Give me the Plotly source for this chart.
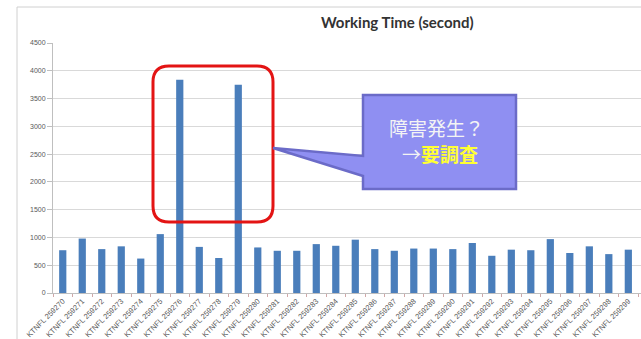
import plotly.graph_objects as go

# ---- data ----
ids = list(range(259270, 259300))
categories = [f"KTNFL {i}" for i in ids]
working_time = [770, 980, 790, 840, 620, 1060, 3840, 830, 630, 3750,
                820, 760, 760, 880, 850, 960, 790, 760, 800, 800,
                790, 900, 670, 780, 770, 970, 720, 840, 700, 780]
y_ticks = list(range(0, 4501, 500))
title_text = "Working Time (second)"
callout_line1 = "障害発生？"
callout_line2 = "→<span style='color:#ffff33'><b>要調査</b></span>"

W, H = 641, 339
L, T, B = 53, 43, 46
PW = W - L
PH = H - T - B

def px(x):
    return (x - L) / PW

def py(y):
    return (H - B - y) / PH

fig = go.Figure()
fig.add_trace(go.Bar(x=categories, y=working_time, marker_color="#4a7ebb",
                     marker_line_width=0, width=0.37))

shapes = []
# chart outer border (top and left lines)
shapes.append(dict(type="line", xref="paper", yref="paper", x0=px(17), x1=px(660),
                   y0=py(7), y1=py(7), line=dict(color="#d0d0d0", width=1)))
shapes.append(dict(type="line", xref="paper", yref="paper", x0=px(17), x1=px(17),
                   y0=py(7), y1=py(345), line=dict(color="#d0d0d0", width=1)))

# red rounded rectangle
x0, x1, y0, y1, r = 153, 273, 66, 222, 16
rx, ry = r / PW, r / PH
X0, X1, Y0, Y1 = px(x0), px(x1), py(y0), py(y1)
path = (f"M {X0+rx},{Y0} L {X1-rx},{Y0} Q {X1},{Y0} {X1},{Y0-ry} "
        f"L {X1},{Y1+ry} Q {X1},{Y1} {X1-rx},{Y1} L {X0+rx},{Y1} "
        f"Q {X0},{Y1} {X0},{Y1+ry} L {X0},{Y0-ry} Q {X0},{Y0} {X0+rx},{Y0} Z")
shapes.append(dict(type="path", xref="paper", yref="paper", path=path,
                   line=dict(color="#e31414", width=3)))

# callout box with pointer
bx0, bx1, by0, by1 = 363, 516, 95, 189
tipx, tipy = 273, 148
path2 = (f"M {px(bx0)},{py(by0)} L {px(bx1)},{py(by0)} L {px(bx1)},{py(by1)} "
         f"L {px(bx0)},{py(by1)} L {px(bx0)},{py(176)} L {px(tipx)},{py(tipy)} "
         f"L {px(bx0)},{py(156)} Z")
shapes.append(dict(type="path", xref="paper", yref="paper", path=path2,
                   fillcolor="#8f8ff2", line=dict(color="#6b6bc8", width=2.5)))

annotations = [
    dict(text=f"<b>{title_text}</b>", xref="paper", yref="paper", x=px(397), y=py(22),
         showarrow=False, font=dict(family="Lato, Liberation Sans", size=15, color="#333333"),
         xanchor="center", yanchor="middle"),
    dict(text=callout_line1, xref="paper", yref="paper", x=px(437), y=py(128),
         showarrow=False, font=dict(family="Noto Sans CJK JP", size=19, color="#f4f4f4"),
         xanchor="center", yanchor="middle"),
    dict(text=callout_line2, xref="paper", yref="paper", x=px(440), y=py(153),
         showarrow=False, font=dict(family="Noto Sans CJK JP", size=19, color="#f4f4f4"),
         xanchor="center", yanchor="middle"),
]

fig.update_layout(
    width=W, height=H,
    margin=dict(l=L, r=0, t=T, b=B, pad=0),
    paper_bgcolor="white", plot_bgcolor="white",
    showlegend=False,
    shapes=shapes, annotations=annotations,
    bargap=0.63,
)
fig.update_xaxes(range=[-0.5, 29.65], tickangle=-45, automargin=False,
                 tickfont=dict(family="Liberation Sans", size=7.5, color="#595959"),
                 showline=True, linecolor="#bfbfbf", linewidth=1,
                 ticks="outside", ticklen=3, tickcolor="#d0a8a8", tickson="boundaries",
                 showgrid=False)
fig.update_yaxes(range=[0, 4500], tickvals=y_ticks, automargin=False,
                 tickfont=dict(family="Liberation Sans", size=7, color="#595959"),
                 showline=True, linecolor="#bfbfbf", linewidth=1,
                 ticks="outside", ticklen=5, tickcolor="#bfbfbf",
                 showgrid=True, gridcolor="#d9d9d9", gridwidth=1, zeroline=False)

fig.write_html("out.html")
